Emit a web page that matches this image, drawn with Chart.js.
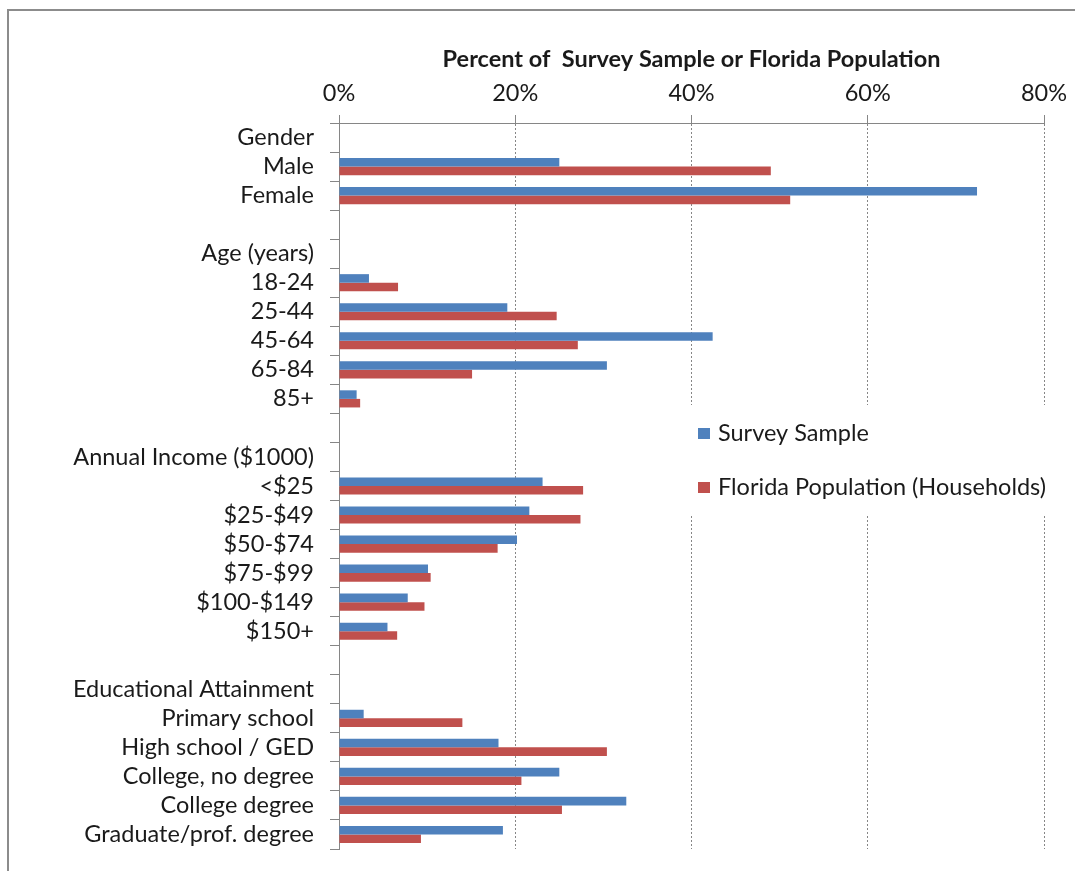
<!DOCTYPE html>
<html>
<head>
<meta charset="utf-8">
<title>Survey sample vs Florida population</title>
<script src="https://cdn.jsdelivr.net/npm/chart.js@4/dist/chart.umd.min.js"></script>
<style>
    html, body { margin: 0; padding: 0; background: #ffffff; }
    canvas { display: block; }
</style>
</head>
<body>
<canvas id="demoChart" width="1075" height="871"></canvas>
<script>
// rows of the chart, header rows and spacers carry no bars
const categories = [
    'Gender', 'Male', 'Female', '',
    'Age (years)', '18-24', '25-44', '45-64', '65-84', '85+', '',
    'Annual Income ($1000)', '<$25', '$25-$49', '$50-$74', '$75-$99', '$100-$149', '$150+', '',
    'Educational Attainment', 'Primary school', 'High school / GED', 'College, no degree', 'College degree', 'Graduate/prof. degree'
];

const surveySample = [
    null, 25.0, 72.4, null,
    null, 3.4, 19.1, 42.4, 30.4, 2.0, null,
    null, 23.1, 21.6, 20.2, 10.1, 7.8, 5.5, null,
    null, 2.8, 18.1, 25.0, 32.6, 18.6
];

const floridaPopulation = [
    null, 49.0, 51.2, null,
    null, 6.7, 24.7, 27.1, 15.1, 2.4, null,
    null, 27.7, 27.4, 18.0, 10.4, 9.7, 6.6, null,
    null, 14.0, 30.4, 20.7, 25.3, 9.3
];

const percentTicks = [0, 20, 40, 60, 80];

const seriesNames = ['Survey Sample', 'Florida Population (Households)'];
const seriesColors = ['#4F81BD', '#C0504D'];

const FONT = 'Lato';
const FONT_SIZE = 23.5;
const TEXT_COLOR = '#1a1a1a';
const AXIS_COLOR = '#868686';

Chart.defaults.font.family = FONT;
Chart.defaults.font.size = FONT_SIZE;
Chart.defaults.color = TEXT_COLOR;

// grey frame around the whole figure
const framePlugin = {
    id: 'frame',
    beforeDraw(chart) {
        const ctx = chart.ctx;
        ctx.save();
        ctx.fillStyle = '#ffffff';
        ctx.fillRect(0, 0, chart.width, chart.height);
        ctx.strokeStyle = '#8c8c8c';
        ctx.lineWidth = 2;
        ctx.strokeRect(8, 10, chart.width * 2, chart.height * 2);
        ctx.restore();
    }
};

// legend sitting inside the plot, on a white box over the grid
const insideLegend = {
    id: 'insideLegend',
    afterDraw(chart) {
        const ctx = chart.ctx;
        const boxX = 682, boxY = 405, rowY = [433, 487];
        ctx.save();
        ctx.fillStyle = '#ffffff';
        ctx.fillRect(boxX, boxY, chart.width - boxX, 109);
        ctx.font = `${FONT_SIZE}px ${FONT}`;
        ctx.textBaseline = 'middle';
        ctx.textAlign = 'left';
        chart.data.datasets.forEach((ds, i) => {
            ctx.fillStyle = ds.backgroundColor;
            ctx.fillRect(698, rowY[i] - 5, 12, 11);
            ctx.fillStyle = TEXT_COLOR;
            ctx.fillText(ds.label, 718, rowY[i]);
        });
        ctx.restore();
    }
};

new Chart(document.getElementById('demoChart').getContext('2d'), {
    type: 'bar',
    data: {
        labels: categories,
        datasets: [{
            label: seriesNames[0],
            data: surveySample,
            backgroundColor: seriesColors[0],
            borderWidth: 0,
            categoryPercentage: 0.59,
            barPercentage: 1.0
        }, {
            label: seriesNames[1],
            data: floridaPopulation,
            backgroundColor: seriesColors[1],
            borderWidth: 0,
            categoryPercentage: 0.59,
            barPercentage: 1.0
        }]
    },
    options: {
        indexAxis: 'y',
        responsive: false,
        animation: false,
        layout: {
            padding: { left: 0, right: 31, top: 0, bottom: 22 }
        },
        plugins: {
            legend: { display: false },
            tooltip: { enabled: false }
        },
        scales: {
            x: {
                type: 'linear',
                position: 'top',
                min: 0,
                max: 80,
                afterBuildTicks: (scale) => {
                    scale.ticks = percentTicks.map(v => ({ value: v }));
                },
                afterFit: (scale) => { scale.height = 123; },
                title: {
                    display: true,
                    text: 'Percent of  Survey Sample or Florida Population',
                    color: TEXT_COLOR,
                    font: { family: FONT, size: FONT_SIZE, weight: 'bold' },
                    padding: { top: 45, bottom: 0 }
                },
                ticks: {
                    color: TEXT_COLOR,
                    padding: 7,
                    font: { size: FONT_SIZE },
                    callback: (val) => val + '%'
                },
                grid: {
                    color: AXIS_COLOR,
                    lineWidth: 1,
                    tickLength: 8,
                    tickColor: AXIS_COLOR
                },
                border: {
                    display: true,
                    color: AXIS_COLOR,
                    width: 1,
                    dash: [2, 2]
                }
            },
            y: {
                afterFit: (scale) => {
                    scale.width = 339;
                    // keep the label overhang from shrinking the plot
                    scale.paddingTop = 0;
                    scale.paddingBottom = 0;
                },
                ticks: {
                    color: TEXT_COLOR,
                    padding: 16,
                    font: { size: FONT_SIZE },
                    autoSkip: false
                },
                grid: {
                    drawOnChartArea: false,
                    tickLength: 9,
                    tickColor: AXIS_COLOR
                },
                border: {
                    display: true,
                    color: AXIS_COLOR,
                    width: 1
                }
            }
        }
    },
    plugins: [framePlugin, insideLegend]
});
</script>
</body>
</html>
